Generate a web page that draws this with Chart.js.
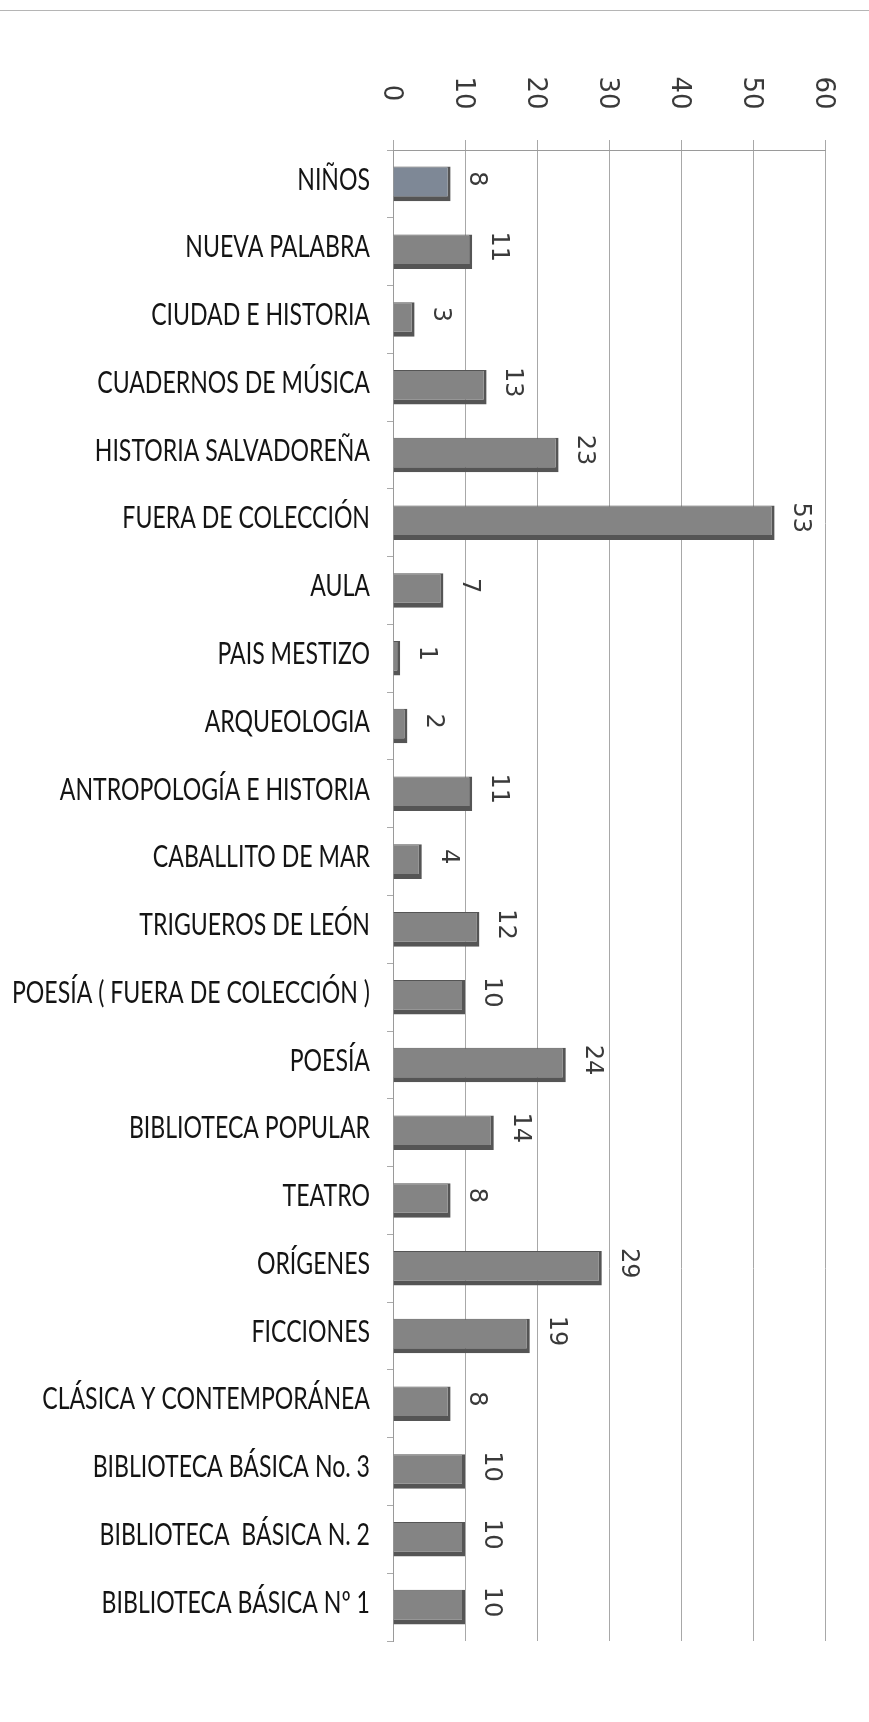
<!DOCTYPE html>
<html>
<head>
<meta charset="utf-8">
<script src="https://cdn.jsdelivr.net/npm/chart.js@4.4.1/dist/chart.umd.min.js"></script>
<style>
  html, body { margin: 0; padding: 0; background: #ffffff; }
  #wrap { position: relative; width: 869px; height: 1722px; }
  #topline { position: absolute; left: 0; top: 10px; width: 869px; height: 0; border-top: 1px solid #b5b5b5; }
  canvas { position: absolute; left: 0; top: 0; }
</style>
</head>
<body>
<div id="wrap">
  <div id="topline"></div>
  <canvas id="c" width="869" height="1722"></canvas>
</div>
<script>
const categories = [
  'NIÑOS', 'NUEVA PALABRA', 'CIUDAD E HISTORIA', 'CUADERNOS DE MÚSICA',
  'HISTORIA SALVADOREÑA', 'FUERA DE COLECCIÓN', 'AULA', 'PAIS MESTIZO',
  'ARQUEOLOGIA', 'ANTROPOLOGÍA E HISTORIA', 'CABALLITO DE MAR', 'TRIGUEROS DE LEÓN',
  'POESÍA ( FUERA DE COLECCIÓN )', 'POESÍA', 'BIBLIOTECA POPULAR', 'TEATRO',
  'ORÍGENES', 'FICCIONES', 'CLÁSICA Y CONTEMPORÁNEA', 'BIBLIOTECA BÁSICA No. 3',
  'BIBLIOTECA  BÁSICA N. 2', 'BIBLIOTECA BÁSICA Nº 1'
];
const values = [8, 11, 3, 13, 23, 53, 7, 1, 2, 11, 4, 12, 10, 24, 14, 8, 29, 19, 8, 10, 10, 10];
const tickValues = [0, 10, 20, 30, 40, 50, 60];
const tickLabels = ['0', '10', '20', '30', '40', '50', '60'];

const barColors = values.map((v, i) => i === 0 ? '#7e8896' : '#848484');

const LABEL_FONT = '30px Lato, "Open Sans", sans-serif';

const customText = {
  id: 'customText',
  afterDatasetsDraw(chart) {
    const ctx = chart.ctx;
    const xs = chart.scales.x;
    const ys = chart.scales.y;
    const meta = chart.getDatasetMeta(0);
    ctx.save();
    // category labels (condensed horizontally)
    ctx.font = LABEL_FONT;
    ctx.fillStyle = '#141414';
    ctx.textAlign = 'right';
    ctx.textBaseline = 'middle';
    const longest = ctx.measureText('POESÍA ( FUERA DE COLECCIÓN )').width;
    const squash = 358 / longest;
    categories.forEach((lab, i) => {
      const y = ys.getPixelForValue(i) - 4;
      ctx.save();
      ctx.translate(ys.right - 23, y);
      ctx.scale(squash, 1);
      ctx.fillText(lab, 0, 0);
      ctx.restore();
    });

    ctx.fillStyle = '#3a3a3a';
    ctx.textAlign = 'center';
    ctx.textBaseline = 'middle';
    // axis tick labels, rotated clockwise
    ctx.font = '26px "DejaVu Sans", sans-serif';
    tickValues.forEach((v, i) => {
      const x = xs.getPixelForValue(v) - 2;
      ctx.save();
      ctx.translate(x, 93);
      ctx.rotate(Math.PI / 2);
      ctx.fillText(tickLabels[i], 0, 0);
      ctx.restore();
    });
    // value labels
    ctx.font = '24px "DejaVu Sans", sans-serif';
    meta.data.forEach((bar, i) => {
      const x = xs.getPixelForValue(values[i]) + 26;
      ctx.save();
      ctx.translate(x, bar.y - 5);
      ctx.rotate(Math.PI / 2);
      ctx.fillText(String(values[i]), 0, 0);
      ctx.restore();
    });
    ctx.restore();
  }
};

new Chart(document.getElementById('c'), {
  type: 'bar',
  data: {
    labels: categories,
    datasets: [{
      data: values,
      backgroundColor: barColors,
      borderColor: '#555555',
      borderWidth: { top: 1, left: 0, right: 3, bottom: 5 },
      borderSkipped: false,
      barPercentage: 0.51,
      categoryPercentage: 1.0
    }]
  },
  options: {
    indexAxis: 'y',
    responsive: false,
    animation: false,
    devicePixelRatio: 1,
    layout: { padding: { left: 0, right: 44, top: 0, bottom: 81 } },
    plugins: { legend: { display: false }, tooltip: { enabled: false } },
    scales: {
      x: {
        position: 'top',
        min: 0, max: 60,
        afterBuildTicks(scale) { scale.ticks = tickValues.map(v => ({ value: v })); },
        ticks: { display: false },
        afterFit(scale) { scale.height = 150; },
        grid: { color: '#a8a8a8', lineWidth: 1, drawTicks: true, tickLength: 10 },
        border: { display: true, color: '#9a9a9a', width: 1 }
      },
      y: {
        afterFit(scale) { scale.width = 393; },
        ticks: { display: false },
        grid: { drawOnChartArea: false, drawTicks: true, tickLength: 6, color: '#aaaaaa', offset: true },
        border: { display: true, color: '#9a9a9a', width: 1 }
      }
    }
  },
  plugins: [customText]
});
</script>
</body>
</html>
